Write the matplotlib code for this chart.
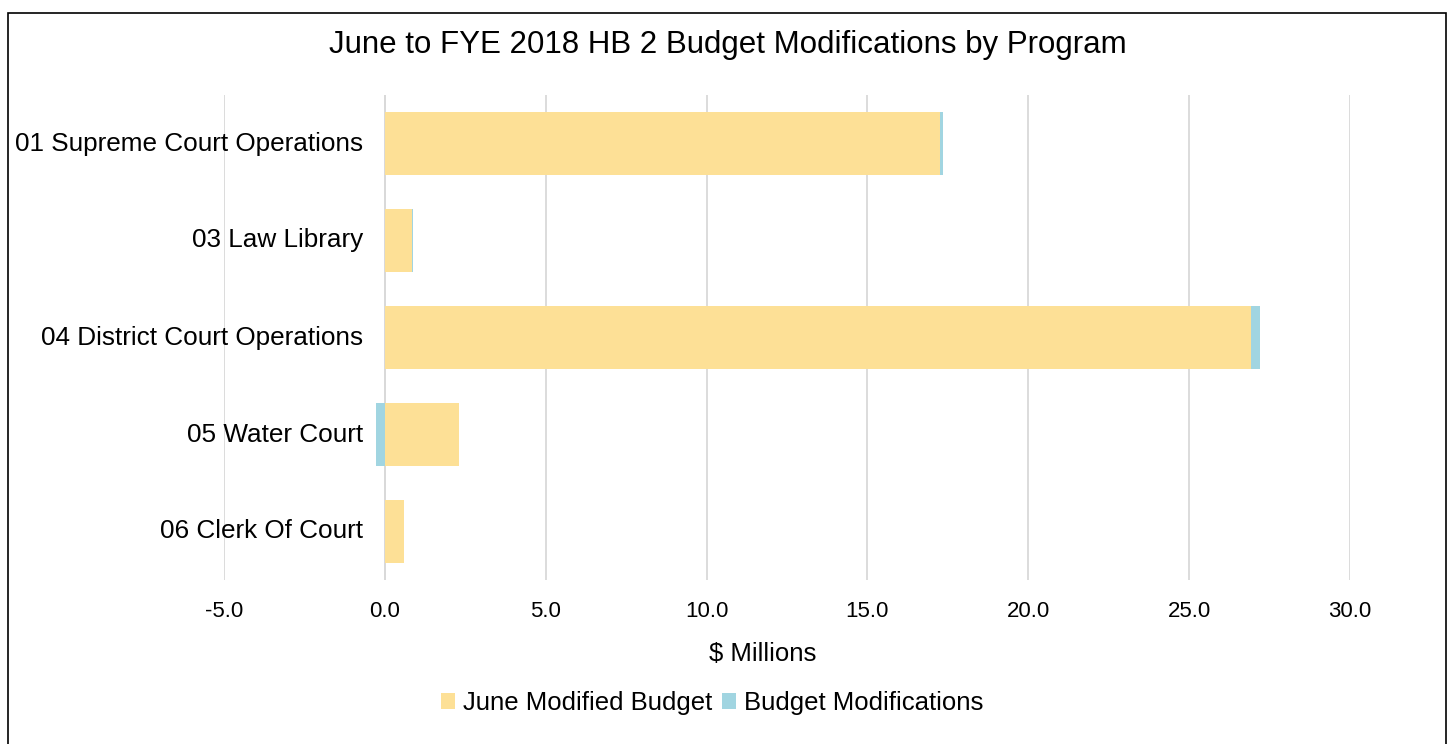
import matplotlib
matplotlib.use("Agg")
import matplotlib.pyplot as plt
import numpy as np
from matplotlib.patches import Rectangle

programs = ["01 Supreme Court Operations", "03 Law Library", "04 District Court Operations",
            "05 Water Court", "06 Clerk Of Court"]
june_budget = [17.25, 0.84, 26.92, 2.30, 0.58]
modifications = [0.10, 0.05, 0.28, -0.28, 0.01]
xticks = [-5, 0, 5, 10, 15, 20, 25, 30]

plt.rcParams['font.family'] = ['Liberation Sans', 'DejaVu Sans']

fig = plt.figure(figsize=(14.48, 7.44), dpi=100)
ax = fig.add_axes([224/1448, 1-580/744, (1350-224)/1448, (580-95)/744])

y = np.arange(len(programs))
jb = np.array(june_budget)
md = np.array(modifications)
h = 0.64
ax.barh(y, jb, height=h, color="#FDE096", label="June Modified Budget", zorder=2)
left = np.where(md >= 0, jb, 0)
ax.barh(y, md, left=left, height=h, color="#A1D5E1", label="Budget Modifications", zorder=2)

ax.set_xlim(-5, 30)
ax.set_ylim(len(programs)-0.5, -0.5)
ax.set_xticks(xticks)
ax.set_xticklabels([f"{v:.1f}" for v in xticks], fontsize=16, color="#000000")
ax.set_yticks(y)
ax.set_yticklabels([])
for yi, name in zip(y, programs):
    ax.annotate(name, xy=(0, yi), xytext=(-22*0.72, 0), textcoords='offset points',
                ha='right', va='center', fontsize=18.8, color="#000000")
ax.tick_params(axis='both', length=0)
ax.tick_params(axis='x', pad=15)
ax.grid(axis='x', color="#D9D9D9", linewidth=1.3, zorder=0)
for s in ax.spines.values():
    s.set_visible(False)
ax.axvline(0, color="#D9D9D9", linewidth=1.3, zorder=1)

fig.text(763/1448, 1-654/744, "$ Millions", fontsize=18.5, ha='center', va='center')
fig.text(728/1448, 1-45/744, "June to FYE 2018 HB 2 Budget Modifications by Program",
         fontsize=22.5, ha='center', va='center')

leg = fig.legend(loc='center', bbox_to_anchor=(712/1448, 1-703/744), ncol=2, frameon=False,
                 fontsize=18.5, handlelength=0.55, handleheight=0.55, handletextpad=0.3,
                 columnspacing=0.4)

fig.patches.append(Rectangle((8/1448, -0.01), (1446-8)/1448, 1-13/744+0.01,
                             transform=fig.transFigure, fill=False, edgecolor="black",
                             linewidth=1.2))

fig.savefig("out.png", dpi=100)
